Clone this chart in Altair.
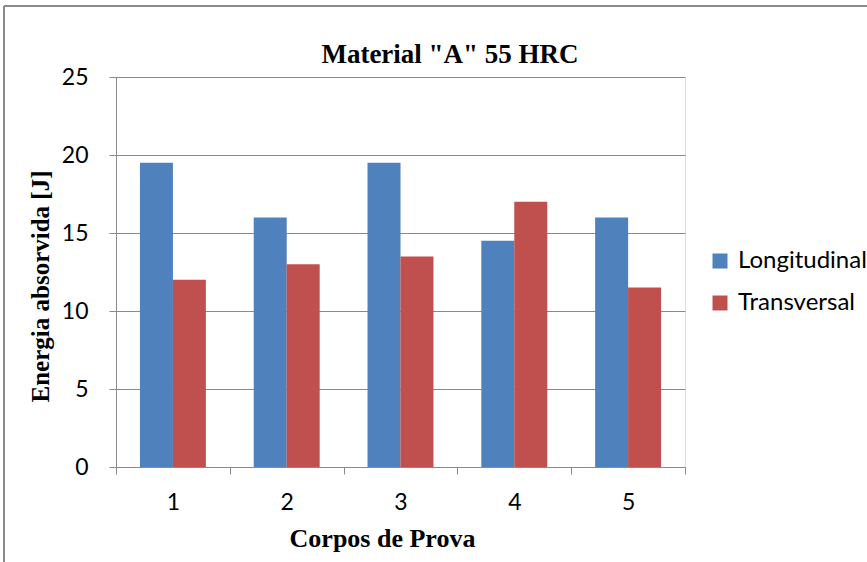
import altair as alt
import pandas as pd

corpos = ["1", "2", "3", "4", "5"]
longitudinal = [19.5, 16, 19.5, 14.5, 16]
transversal = [12, 13, 13.5, 17, 11.5]
series = ["Longitudinal", "Transversal"]
colors = ["#4F81BD", "#C0504D"]
y_ticks = [0, 5, 10, 15, 20, 25]
chart_title = 'Material "A" 55 HRC'

rows = []
for i, c in enumerate(corpos):
    rows.append({"corpo": c, "serie": series[0], "valor": longitudinal[i]})
    rows.append({"corpo": c, "serie": series[1], "valor": transversal[i]})
df = pd.DataFrame(rows)

W, H = 569, 390
PL, PT = 116, 77
GRAY = "#8a8a8a"
SANS = "Lato"
SERIF = "Liberation Serif"

bars = alt.Chart(df).mark_bar(size=33).encode(
    x=alt.X("corpo:N", sort=corpos,
            scale=alt.Scale(paddingInner=0, paddingOuter=0),
            axis=alt.Axis(title="Corpos de Prova", labelAngle=0, tickBand="extent",
                          domainColor=GRAY, tickColor=GRAY, tickSize=7,
                          labelFont=SANS, labelFontSize=23, labelColor="#000",
                          labelPadding=17, labelBaseline="top",
                          titleFont=SERIF, titleFontSize=26, titleFontWeight="bold",
                          titleColor="#000", titlePadding=11, titleX=266)),
    xOffset=alt.XOffset("serie:N", sort=series,
                        scale=alt.Scale(paddingInner=0, paddingOuter=0.727)),
    y=alt.Y("valor:Q", scale=alt.Scale(domain=[0, 25], nice=False),
            axis=alt.Axis(title="Energia absorvida [J]", values=y_ticks,
                          grid=True, gridColor=GRAY, domainColor=GRAY,
                          tickColor=GRAY, tickSize=7,
                          labelFont=SANS, labelFontSize=23, labelColor="#000",
                          labelPadding=21,
                          titleFont=SERIF, titleFontSize=25, titleFontWeight="bold",
                          titleColor="#000", titleX=-76, titleY=209,
                          titleBaseline="middle", titleAngle=270)),
    color=alt.Color("serie:N", sort=series,
                    scale=alt.Scale(domain=series, range=colors),
                    legend=alt.Legend(title=None, orient="none", legendX=592, legendY=172,
                                      symbolType="square", symbolSize=225,
                                      symbolStrokeWidth=0, labelFont=SANS,
                                      labelFontSize=24, labelColor="#000",
                                      rowPadding=18, labelOffset=6)),
)

title_mark = alt.Chart(pd.DataFrame({"t": [chart_title]})).mark_text(
    font=SERIF, fontSize=27, fontWeight="bold", color="#000",
    align="center", baseline="middle").encode(
    text="t:N", x=alt.value(450 - PL), y=alt.value(55 - PT))

frame_top = alt.Chart(df).mark_rule(color=GRAY, strokeWidth=1.5).encode(
    x=alt.value(4 - PL), x2=alt.value(867 - PL), y=alt.value(6 - PT))
frame_left = alt.Chart(df).mark_rule(color=GRAY, strokeWidth=1.5).encode(
    x=alt.value(4 - PL), y=alt.value(6 - PT), y2=alt.value(562 - PT))

chart = alt.layer(bars, title_mark, frame_top, frame_left).properties(
    width=W, height=H,
    padding={"left": PL, "top": PT, "right": 867 - PL - W, "bottom": 562 - PT - H},
    autosize=alt.AutoSizeParams(type="none"),
).configure_view(stroke=None).configure(background="white")

chart.save("out.html", embed_options={"renderer": "svg", "actions": False})
